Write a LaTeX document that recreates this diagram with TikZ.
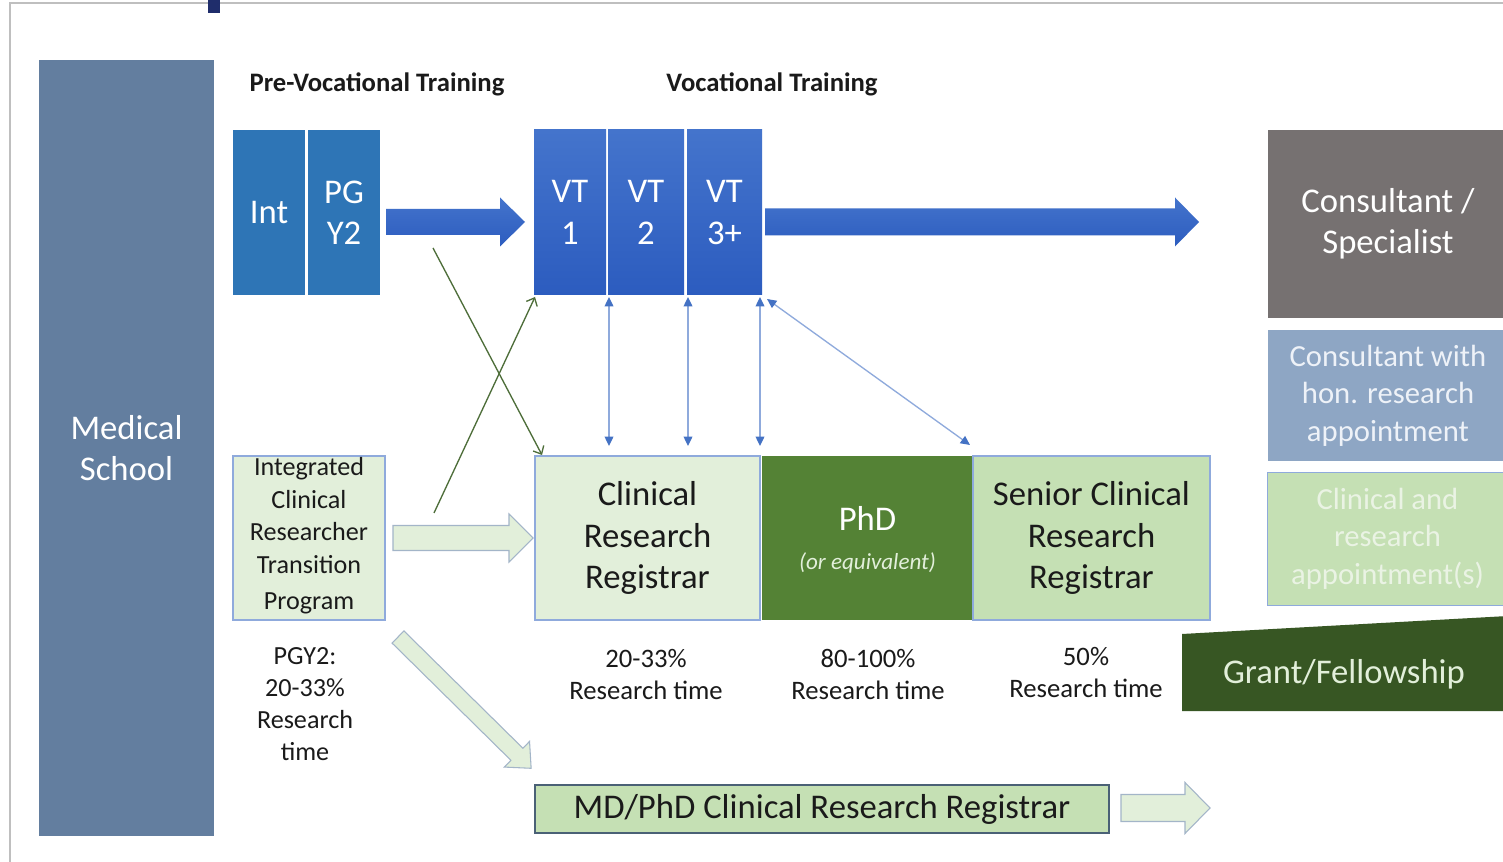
\documentclass[tikz,border=0pt]{standalone}
\usepackage{fontspec}
\setmainfont{Carlito}
\usetikzlibrary{arrows.meta,calc}
\definecolor{medblue}{HTML}{637E9F}
\definecolor{intblue}{HTML}{2E75B6}
\definecolor{vttop}{HTML}{4474CC}
\definecolor{vtbot}{HTML}{2C5CBF}
\definecolor{consgray}{HTML}{767171}
\definecolor{honblue}{HTML}{8EA6C4}
\definecolor{lightgreen}{HTML}{E2EFDA}
\definecolor{midgreen}{HTML}{C5E0B4}
\definecolor{phdgreen}{HTML}{548235}
\definecolor{grantgreen}{HTML}{375623}
\definecolor{boxborder}{HTML}{8FAADC}
\definecolor{mdborder}{HTML}{4A6176}
\definecolor{arrowborder}{HTML}{A3B5C8}
\definecolor{lineblue}{HTML}{8FAADC}
\definecolor{headblue}{HTML}{4472C4}
\definecolor{greenline}{HTML}{4E6E3A}
\definecolor{frame}{HTML}{BFBFBF}
\definecolor{navy}{HTML}{1F2D6B}
\definecolor{textdark}{HTML}{1A1A1A}
\definecolor{palewhite}{HTML}{EEF2F8}
\definecolor{palegreen}{HTML}{EAF3E4}
\newcommand{\fs}[2]{\fontsize{#1}{#2}\selectfont}
\newcommand{\pxbox}[7]{\node[box,#1,minimum width={(#4-#2)*0.75pt},minimum height={(#5-#3)*0.75pt}] (#6) at ({(#2+#4)/2},{(#3+#5)/2}) {#7};}
\newcommand{\blockarrow}[8]{\path[#1,shift={(#2,#3)},rotate=#4] (0,{-#6/2}) -- ({#5-#8},{-#6/2}) -- ({#5-#8},{-#7/2}) -- (#5,0) -- ({#5-#8},{#7/2}) -- ({#5-#8},{#6/2}) -- (0,{#6/2}) -- cycle;}
\begin{document}
\begin{tikzpicture}[x=0.75pt,y=-0.75pt,
  box/.style={rectangle,inner sep=0pt,outer sep=0pt,align=center},
  big/.style={font=\fs{26}{31}},
  mid/.style={font=\fs{23}{28}},
  small/.style={font=\fs{19.6}{24.4}},
  header/.style={font=\fs{20}{24}\bfseries,text=textdark},
  bluefill/.style={top color=vttop,bottom color=vtbot,draw=none},
  paleblock/.style={fill=lightgreen,draw=arrowborder,line width=0.8pt,line join=miter},
  dblarrow/.style={draw=lineblue,line width=1pt,{Triangle[length=7pt,width=6.5pt,color=headblue]}-{Triangle[length=7pt,width=6.5pt,color=headblue]}},
  greenarrow/.style={draw=greenline,line width=1pt,-{Straight Barb[length=5pt,width=9pt]}}
]
\useasboundingbox (0,0) rectangle (1503,862);
\clip (0,0) rectangle (1503,862);
\fill[white] (0,0) rectangle (1503,862);
% frame
\draw[frame,line width=0.8pt] (10,862) -- (10,3) -- (1503,3);
\fill[navy] (208,0) rectangle (220,13);

% headers
\node[header] (hpre) at (377,84) {Pre-Vocational Training};
\node[header] (hvt) at (772,84) {Vocational Training};

% medical school
\pxbox{fill=medblue,big,text=white}{39}{60}{214}{836}{med}{Medical\\School}

% pre-vocational
\pxbox{fill=intblue,big,text=white}{233}{130}{305}{295}{int}{Int}
\pxbox{fill=intblue,big,text=white}{308}{130}{380}{295}{pgy}{PG\\Y2}

% vocational
\pxbox{bluefill,big,text=white}{534}{130}{606}{295}{vt1}{VT\\1}
\pxbox{bluefill,big,text=white}{608}{130}{684}{295}{vt2}{VT\\2}
\pxbox{bluefill,big,text=white}{687}{130}{762}{295}{vt3}{VT\\3+}

% right column
\pxbox{fill=consgray,big,text=white}{1268}{130}{1508}{318}{cons}{Consultant /\\Specialist}
\pxbox{fill=honblue,mid,text=palewhite}{1268}{330}{1508}{461}{hon}{Consultant with\\hon. research\\appointment}
\pxbox{fill=midgreen,draw=boxborder,line width=0.6pt,mid,text=palegreen}{1267}{472}{1508}{605}{clin}{Clinical and\\research\\appointment(s)}

% grant
\fill[grantgreen] (1182,634) -- (1508,616) -- (1508,711) -- (1182,711) -- cycle;
\node[big,text=lightgreen] (grant) at (1344,674) {Grant/Fellowship};

% research track
\pxbox{fill=lightgreen,draw=boxborder,line width=0.8pt,small,text=textdark}{233}{456}{385}{620}{icrt}{}
\node[small,align=center,text=textdark] (icrttext) at (309,536) {Integrated\\Clinical\\Researcher\\Transition\\[3pt]Program};
\pxbox{fill=lightgreen,draw=boxborder,line width=0.8pt,big,text=textdark}{535}{456}{760}{620}{crr}{Clinical\\Research\\Registrar}
\pxbox{fill=phdgreen,draw=none}{762}{456}{973}{620}{phd}{}
\node[big,text=white] (phdtitle) at ($(phd.center)+(0,-20)$) {PhD};
\node[font=\fs{17.3}{20}\itshape,text=lightgreen] (phdsub) at ($(phd.center)+(0,25)$) {(or equivalent)};
\pxbox{fill=midgreen,draw=boxborder,line width=0.8pt,big,text=textdark}{973}{456}{1210}{620}{scrr}{Senior Clinical\\Research\\Registrar}
\pxbox{fill=midgreen,draw=mdborder,line width=1.2pt,big,text=textdark}{535}{785}{1109}{833}{md}{MD/PhD Clinical Research Registrar}

% labels
\node[small,align=center,text=textdark,font=\fs{19.6}{24}] (pgylbl) at (305,704) {PGY2:\\20-33\%\\Research\\time};
\node[align=center,text=textdark,font=\fs{20}{24}] (rt1) at (646,675) {20-33\%\\Research time};
\node[align=center,text=textdark,font=\fs{20}{24}] (rt2) at (868,674) {80-100\%\\Research time};
\node[align=center,text=textdark,font=\fs{20}{24}] (rt3) at (1086,673) {50\%\\Research time};

% block arrows
\blockarrow{bluefill}{386}{222}{0}{139}{26}{49}{25}
\blockarrow{bluefill}{765}{222}{0}{434}{27}{49}{24}
\blockarrow{paleblock}{393}{538}{0}{140}{25}{48}{24}
\blockarrow{paleblock}{398}{637}{-44.6}{187}{17}{36}{20}
\blockarrow{paleblock}{1121}{808}{0}{89}{27}{51}{25}

% thin connectors
\coordinate (g1s) at (433,248);
\coordinate (g2s) at (434,513);
\draw[greenarrow] (g1s) -- ($(crr.north west)+(7,-1)$);
\draw[greenarrow] (g2s) -- ($(vt1.south west)+(1,2)$);
\draw[dblarrow] ($(vt2.south west)+(1,2)$) -- ($(vt2.south west |- crr.north)+(1,-10)$);
\draw[dblarrow] ($(vt3.south west)+(1,2)$) -- ($(vt3.south west |- crr.north)+(1,-10)$);
\draw[dblarrow] ($(vt3.south east)+(-2,2)$) -- ($(vt3.south east |- crr.north)+(-2,-10)$);
\draw[dblarrow] ($(vt3.south east)+(5,4)$) -- ($(phd.north east)+(-3,-11)$);
\end{tikzpicture}
\end{document}
